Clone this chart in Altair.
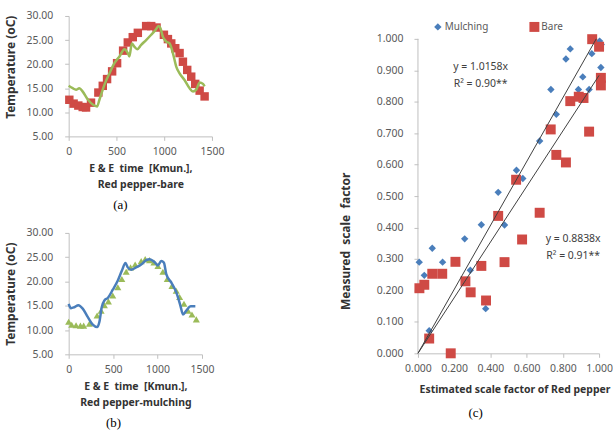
import altair as alt
import pandas as pd

# ---- (a) Red pepper, bare soil: measured temperature (squares) and model (line)
bare_pts_time = [7, 52, 101, 147, 182, 234, 311, 357, 402, 455, 507, 570, 619, 671,
                 724, 811, 864, 920, 997, 1039, 1074, 1116, 1161, 1196, 1241, 1283,
                 1325, 1371, 1423]
bare_pts_temp = [12.6, 11.8, 11.4, 11.1, 11.0, 12.0, 14.1, 15.5, 16.9, 18.5, 20.2, 22.8,
                 24.5, 25.6, 26.5, 27.9, 27.9, 27.6, 26.1, 25.2, 24.3, 23.3, 22.3, 20.5,
                 18.8, 17.4, 15.9, 14.5, 13.3]
bare_line_time = [0, 42, 77, 112, 147, 199, 252, 297, 322, 374, 427, 479, 532, 584, 619,
                  636, 661, 689, 717, 759, 811, 864, 909, 941, 962, 986, 1021, 1056, 1091,
                  1126, 1161, 1213, 1266, 1301, 1336, 1371, 1406, 1423]
bare_line_temp = [15.5, 15.0, 14.7, 15.0, 14.3, 12.7, 11.6, 11.2, 12.6, 15.7, 18.1, 20.2,
                  21.6, 23.1, 22.3, 21.6, 24.3, 23.6, 23.1, 24.0, 25.0, 26.1, 27.1, 27.9,
                  27.4, 25.7, 24.7, 24.3, 22.3, 19.5, 18.1, 16.7, 15.0, 14.3, 14.7, 16.2,
                  15.9, 15.4]

# ---- (b) Red pepper, mulching: measured temperature (triangles) and model (line)
mulch_pts_time = [0, 34, 83, 132, 169, 233, 320, 365, 402, 447, 496, 553, 598, 647, 696,
                  748, 816, 861, 910, 959, 1004, 1060, 1109, 1162, 1210, 1248, 1297, 1342,
                  1387, 1436]
mulch_pts_temp = [11.7, 11.1, 11.0, 10.9, 10.9, 11.3, 13.0, 14.0, 15.1, 15.9, 17.1, 18.8,
                  20.5, 22.0, 22.9, 23.5, 24.2, 24.6, 24.4, 23.9, 23.2, 22.0, 20.5, 19.1,
                  18.1, 16.8, 15.4, 14.0, 13.2, 12.2]
mulch_line_time = [0, 26, 64, 109, 158, 214, 271, 320, 346, 372, 402, 440, 496, 553, 598,
                   639, 665, 703, 759, 816, 872, 910, 966, 1004, 1041, 1071, 1098, 1154,
                   1210, 1256, 1286, 1323, 1372, 1425]
mulch_line_temp = [15.4, 14.5, 14.7, 15.1, 14.4, 12.7, 11.1, 10.6, 11.7, 14.7, 16.1, 16.6,
                   18.3, 20.2, 22.2, 23.8, 22.9, 22.4, 22.9, 23.5, 24.4, 24.6, 24.0, 23.3,
                   24.2, 23.9, 21.5, 19.8, 17.8, 15.1, 13.2, 14.0, 14.9, 14.9]

# ---- (c) estimated vs measured scale factor
mulch_est = [0.007, 0.035, 0.062, 0.079, 0.136, 0.258, 0.289, 0.350, 0.374, 0.443, 0.478,
             0.544, 0.579, 0.672, 0.734, 0.764, 0.817, 0.841, 0.886, 0.910, 0.945, 0.960,
             1.003, 1.012, 1.010]
mulch_meas = [0.290, 0.248, 0.072, 0.334, 0.290, 0.364, 0.264, 0.409, 0.142, 0.512, 0.408,
              0.582, 0.556, 0.675, 0.839, 0.760, 0.936, 0.968, 0.839, 0.879, 0.839, 0.953,
              0.993, 0.982, 0.909]
bare_est = [0.008, 0.035, 0.062, 0.079, 0.134, 0.181, 0.207, 0.262, 0.291, 0.350, 0.376,
            0.443, 0.478, 0.542, 0.575, 0.672, 0.733, 0.764, 0.817, 0.841, 0.888, 0.914,
            0.945, 0.962, 1.000, 1.010, 1.010]
bare_meas = [0.207, 0.218, 0.047, 0.253, 0.253, 0.000, 0.291, 0.229, 0.194, 0.278, 0.168,
             0.437, 0.290, 0.552, 0.362, 0.447, 0.712, 0.631, 0.607, 0.802, 0.816, 0.812,
             0.705, 0.999, 0.975, 0.876, 0.852]
fit_names = ["Mulching", "Bare"]
fit_slopes = [1.0158, 0.8838]
fit_labels = [["y = 1.0158x", "R\u00b2 = 0.90**"], ["y = 0.8838x", "R\u00b2 = 0.91**"]]
fit_label_x = [0.346, 0.857]
fit_label_y = [0.911, 0.364]

BLUE = "#4A7EBB"
RED = "#CF4A45"
GREEN = "#9BBB59"
AXIS_GRAY = "#BFBFBF"
LABEL_GRAY = "#595959"
TITLE_DARK = "#333333"
FONT = "Noto Sans"
SERIF = "Liberation Serif"

# panel (c): the plot frame reaches up past 1.0 so the legend sits inside it
C_PX_PER_UNIT = 316
C_HEIGHT = 339
C_Y_TOP = C_HEIGHT / C_PX_PER_UNIT


def tag(text, dx, offset):
    return alt.TitleParams(text, orient="bottom", anchor="middle", frame="group",
                           font=SERIF, fontSize=13, fontWeight="normal",
                           color="black", dx=dx, offset=offset)


def temp_panel(pt_time, pt_temp, ln_time, ln_temp, pt_shape, pt_size, pt_color,
               ln_color, subtitle, letter, dx, width, height, title_y):
    pts = pd.DataFrame({"time": pt_time, "temp": pt_temp})
    line = pd.DataFrame({"time": ln_time, "temp": ln_temp})
    x = alt.X("time:Q", scale=alt.Scale(domain=[0, 1500], nice=False),
              axis=alt.Axis(values=[0, 500, 1000, 1500], format="d", tickSize=4,
                            labelPadding=6, labelFlush=False, labelOverlap=False,
                            title=["E & E \u00a0time \u00a0[Kmun.],", subtitle],
                            titleFontSize=10.5, titlePadding=7, titleLineHeight=16))
    y = alt.Y("temp:Q", scale=alt.Scale(domain=[5, 30], nice=False),
              axis=alt.Axis(values=[5, 10, 15, 20, 25, 30], format=".2f", tickSize=4,
                            labelPadding=12, labelOverlap=False,
                            title="Temperature (oC)",
                            titleFontSize=12, titlePadding=9, titleY=title_y))
    marks = alt.Chart(pts).mark_point(shape=pt_shape, filled=True, opacity=1,
                                      size=pt_size, color=pt_color).encode(x=x, y=y)
    curve = alt.Chart(line).mark_line(color=ln_color, strokeWidth=2.5,
                                      interpolate="monotone").encode(x=x, y=y)
    return alt.layer(marks, curve).properties(width=width, height=height,
                                              title=tag(letter, dx, 9))


panel_a = temp_panel(bare_pts_time, bare_pts_temp, bare_line_time, bare_line_temp,
                     "square", 72, RED, GREEN, "Red pepper-bare", "(a)", -20,
                     144, 121, 51)
panel_b = temp_panel(mulch_pts_time, mulch_pts_temp, mulch_line_time, mulch_line_temp,
                     "triangle-up", 50, GREEN, BLUE, "Red pepper-mulching", "(b)", -22,
                     134, 122, 61)

scatter = pd.concat([
    pd.DataFrame({"est": mulch_est, "meas": mulch_meas, "series": "Mulching"}),
    pd.DataFrame({"est": bare_est, "meas": bare_meas, "series": "Bare"}),
], ignore_index=True)

fit_rows = []
for name, slope in zip(fit_names, fit_slopes):
    x_end = min(1.0, 1.0 / slope)
    fit_rows.append({"fit": name, "est": 0.0, "meas": 0.0})
    fit_rows.append({"fit": name, "est": x_end, "meas": slope * x_end})
fits = pd.DataFrame(fit_rows)

notes = pd.DataFrame({"est": fit_label_x, "meas": fit_label_y, "text": fit_labels})
y_axis_line = pd.DataFrame({"est": [0.0], "meas": [0.0], "meas_top": [1.0]})

xc = alt.X("est:Q", scale=alt.Scale(domain=[0, 1], nice=False),
           axis=alt.Axis(values=[0, 0.2, 0.4, 0.6, 0.8, 1.0], format=".3f", tickSize=4,
                         labelPadding=6, labelFlush=False, labelOverlap=False,
                         title="Estimated scale factor of Red pepper",
                         titleFontSize=10.5, titlePadding=11, titleX=97))
yc = alt.Y("meas:Q", scale=alt.Scale(domain=[0, C_Y_TOP], nice=False),
           axis=alt.Axis(values=[i / 10 for i in range(11)], format=".3f", tickSize=4,
                         labelPadding=11, labelOverlap=False, domain=False,
                         title="Measured \u00a0scale \u00a0factor",
                         titleFontSize=12, titlePadding=24,
                         titleY=C_HEIGHT - 113))

legend = alt.Legend(orient="none", legendX=15, legendY=6, direction="horizontal",
                    title=None, padding=0, columnPadding=41, labelOffset=2,
                    labelFontSize=10, labelColor=LABEL_GRAY, labelFont=FONT,
                    symbolStrokeWidth=0)
series_dom = ["Mulching", "Bare"]
axis_line_c = alt.Chart(y_axis_line).mark_rule(color=AXIS_GRAY, strokeWidth=1).encode(
    x=xc, y=yc, y2="meas_top:Q")
points_c = alt.Chart(scatter).mark_point(filled=True, opacity=1).encode(
    x=xc, y=yc,
    color=alt.Color("series:N", scale=alt.Scale(domain=series_dom, range=[BLUE, RED]),
                    legend=legend),
    shape=alt.Shape("series:N", scale=alt.Scale(domain=series_dom,
                                                range=["diamond", "square"]),
                    legend=legend),
    size=alt.Size("series:N", scale=alt.Scale(domain=series_dom, range=[55, 100]),
                  legend=legend),
)
lines_c = alt.Chart(fits).mark_line(color="#404040", strokeWidth=1).encode(
    x=xc, y=yc, detail="fit:N")
text_c = alt.Chart(notes).mark_text(font=FONT, fontSize=10.5, color="#404040",
                                    lineHeight=17, baseline="middle").encode(
    x=xc, y=yc, text="text")
panel_c = alt.layer(axis_line_c, points_c, lines_c, text_c).properties(
    width=182, height=C_HEIGHT, title=tag("(c)", -33, 12))

chart = alt.hconcat(
    alt.vconcat(panel_a, panel_b, spacing=16),
    panel_c,
    spacing=115,
).resolve_legend(
    color="independent", shape="independent", size="independent",
).properties(
    padding={"left": 4, "top": 10, "right": 0, "bottom": 0},
    background="white",
).configure_view(stroke=None).configure_axis(
    grid=False, domainColor=AXIS_GRAY, tickColor=AXIS_GRAY, labelColor=LABEL_GRAY,
    labelFont=FONT, labelFontSize=10.5, titleFont=FONT, titleFontWeight="bold",
    titleColor=TITLE_DARK,
)

chart.save("out.html", embed_options={"renderer": "svg", "actions": False})
